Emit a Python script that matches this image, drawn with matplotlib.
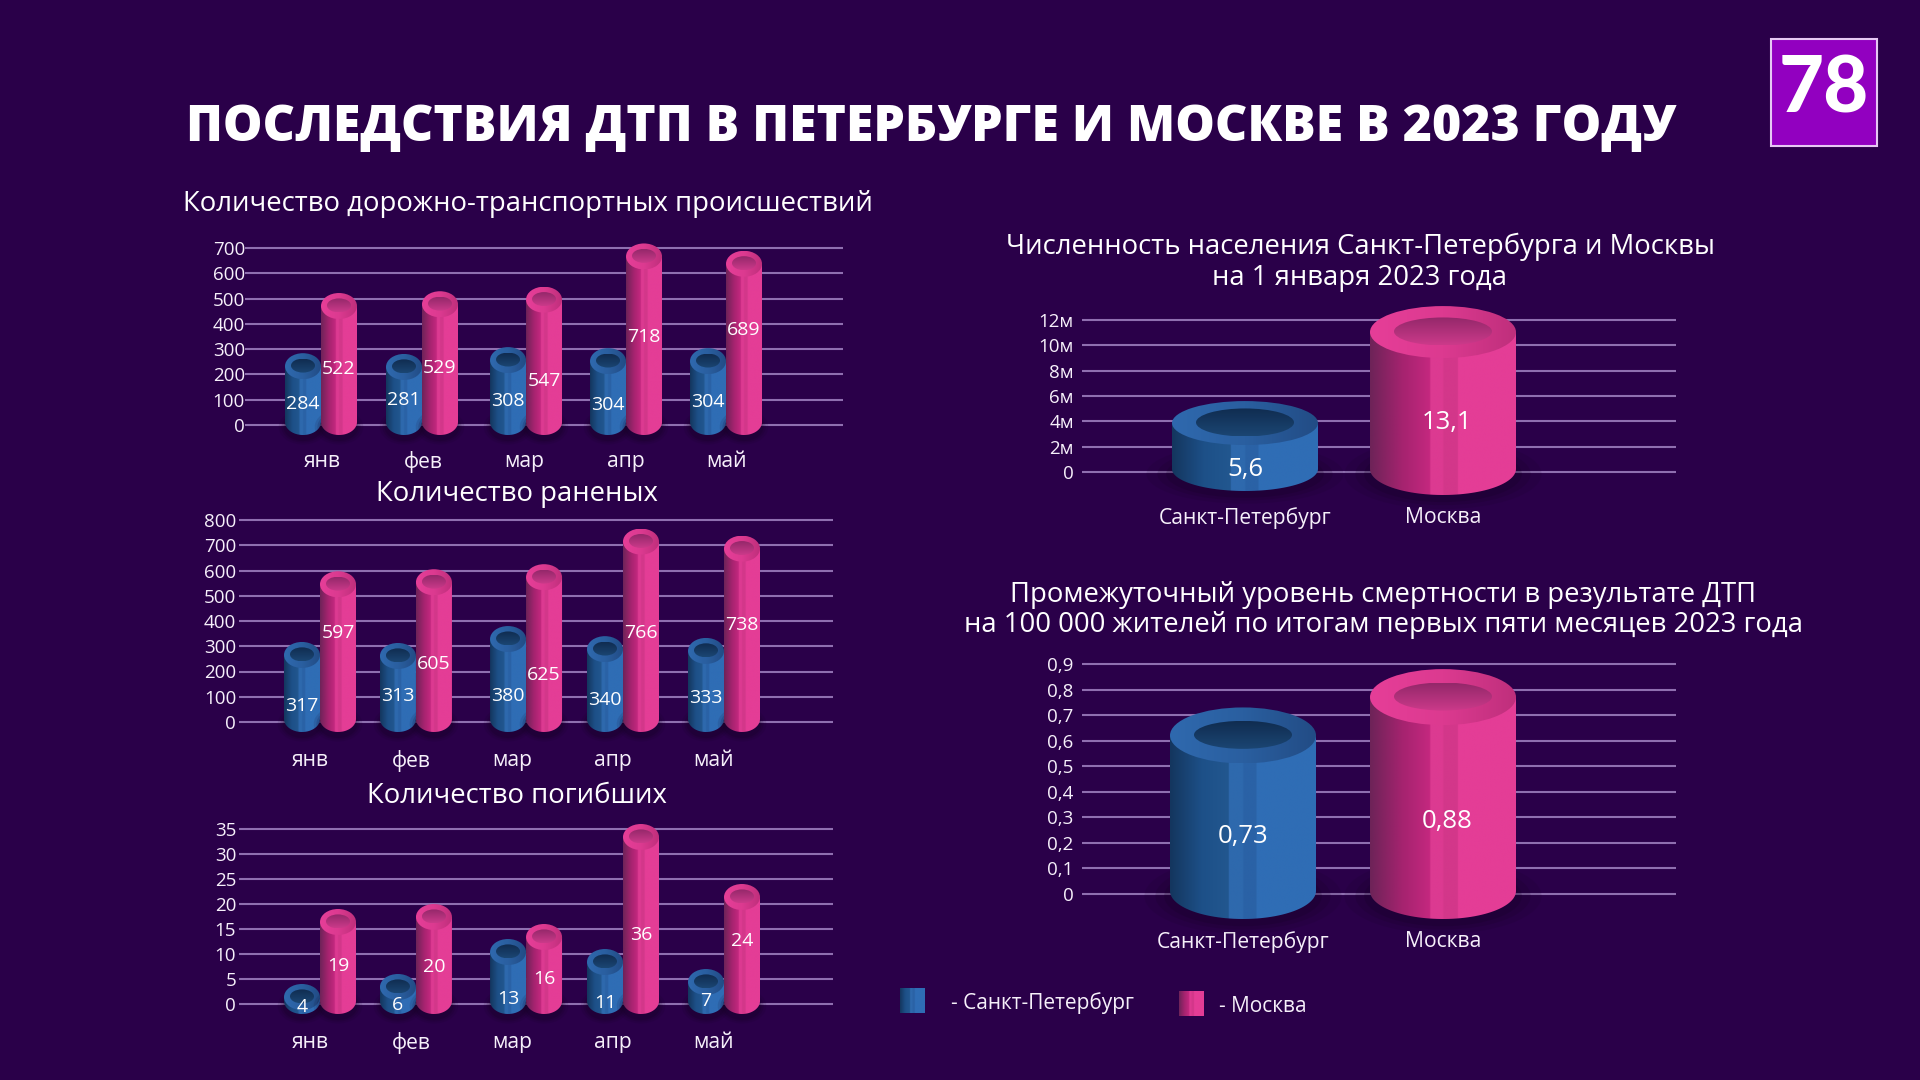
# =====================================================
# ДТП в Петербурге и Москве, 2023 - cylinder bar charts
# =====================================================
import numpy as np
import matplotlib
matplotlib.use("Agg")
import matplotlib.pyplot as plt
from matplotlib.colors import to_rgb
from matplotlib.patches import Ellipse, PathPatch, Rectangle
from matplotlib.path import Path

plt.rcParams["font.family"] = ["Open Sans", "DejaVu Sans"]

# =====================================================
# 1. Data
# =====================================================
months = ["янв", "фев", "мар", "апр", "май"]
cities = ["Санкт-Петербург", "Москва"]

crashes_spb = [284, 281, 308, 304, 304]
crashes_msk = [522, 529, 547, 718, 689]
injured_spb = [317, 313, 380, 340, 333]
injured_msk = [597, 605, 625, 766, 738]
deaths_spb = [4, 6, 13, 11, 7]
deaths_msk = [19, 20, 16, 36, 24]

population = [5.6, 13.1]
population_labels = ["5,6", "13,1"]
death_rate = [0.73, 0.88]
death_rate_labels = ["0,73", "0,88"]

crashes_ticks = [0, 100, 200, 300, 400, 500, 600, 700]
injured_ticks = [0, 100, 200, 300, 400, 500, 600, 700, 800]
deaths_ticks = [0, 5, 10, 15, 20, 25, 30, 35]
population_ticks = [0, 2, 4, 6, 8, 10, 12]
population_ticklabels = ["0", "2м", "4м", "6м", "8м", "10м", "12м"]
rate_ticks = [0, 0.1, 0.2, 0.3, 0.4, 0.5, 0.6, 0.7, 0.8, 0.9]
rate_ticklabels = ["0", "0,1", "0,2", "0,3", "0,4", "0,5", "0,6", "0,7", "0,8", "0,9"]

# =====================================================
# 2. Colours
# =====================================================
BG = "#2a0049"
GRID = "#8f6fb0"
TXT = "#f6f0fa"

BLUE_BODY = [(0, "#14365e"), (0.22, "#1d5088"), (0.40, "#22578f"), (0.405, "#2e69ad"), (0.5, "#2e69ad"),
             (0.505, "#2a62a6"), (0.59, "#2a62a6"), (0.595, "#2f6db5"), (1, "#2f6db5")]
PINK_BODY = [(0, "#6d2358"), (0.22, "#a5236f"), (0.41, "#c4287f"), (0.415, "#dc3a91"), (0.5, "#dc3a91"),
             (0.505, "#d3378a"), (0.6, "#d3378a"), (0.605, "#e43d96"), (1, "#e43d96")]
BLUE_RING = [(0, "#2f69ae"), (0.5, "#2a5fa0"), (1, "#224c85")]
PINK_RING = [(0, "#e63e98"), (0.5, "#dc3a90"), (1, "#bf2f7c")]
BLUE_HOLE = [(0, "#102c50"), (1, "#1b4673")]
PINK_HOLE = [(0, "#93286a"), (1, "#cc3a8a")]


def ramp(stops, horizontal=True):
    # build a 1-pixel wide gradient image from colour stops
    pos = [s[0] for s in stops]
    rgb = np.array([to_rgb(s[1]) for s in stops])
    t = np.linspace(0, 1, 256)
    img = np.stack([np.interp(t, pos, rgb[:, i]) for i in range(3)], axis=-1)
    return img[None, :, :] if horizontal else img[:, None, :]


def fill(ax, img, patch, extent, z):
    patch.set_facecolor("none")
    patch.set_edgecolor("none")
    ax.add_patch(patch)
    im = ax.imshow(img, extent=extent, aspect="auto", zorder=z, interpolation="bilinear")
    im.set_clip_path(patch)


# =====================================================
# 3. Panel helpers (layout in pixels of the 1920x1080 image)
# =====================================================
W, H = 1920, 1080
fig = plt.figure(figsize=(W / 100, H / 100), dpi=100, facecolor=BG)


def panel(x0, x1, y_zero, y_max, vmax, step_px, first_px, ticks, ticklabels, cats, tick_nudge, pad_bot, ypad):
    pad_top = 34
    ax = fig.add_axes([x0 / W, 1 - (y_zero + pad_bot) / H, (x1 - x0) / W, (y_zero + pad_bot - y_max + pad_top) / H])
    sy = (y_zero - y_max) / vmax
    lim_x = ((x0 - first_px) / step_px, (x1 - first_px) / step_px)
    lim_y = (-pad_bot / sy, vmax + pad_top / sy)
    ax.set_facecolor("none")
    for s in ax.spines.values():
        s.set_visible(False)
    ax.set_yticks(ticks)
    ax.set_yticklabels(ticklabels, color=TXT, fontsize=13.5)
    ax.set_xticks([i + tick_nudge for i in range(len(cats))])
    ax.set_xticklabels(cats, color=TXT, fontsize=15.2)
    ax.tick_params(length=0, axis="both")
    ax.tick_params(axis="y", pad=ypad)
    ax.yaxis.grid(True, color=GRID, lw=1.5, zorder=0)
    ax.set_axisbelow(True)
    ax.set_xlim(lim_x)
    ax.set_ylim(lim_y)
    ax.px = (step_px, sy, lim_x, lim_y)
    return ax


def cylinder(ax, x, value, rx_px, ry_px, hole_rx, hole_ry, body, ring, hole, z):
    step, sy, lim_x, lim_y = ax.px
    rx, ry = rx_px / step, ry_px / sy
    top = value - ry
    base = 3 / sy
    # soft shadow
    for k, a in zip((1.35, 1.2, 1.08), (0.10, 0.14, 0.18)):
        ax.add_patch(Ellipse((x, base - 5 / sy), 2 * rx * k, 2 * ry * k, fc="#12001f", ec="none", alpha=a,
                             zorder=z, clip_on=False))
    # body: straight sides and the lower half of the base ellipse
    t = np.linspace(np.pi, 2 * np.pi, 60)
    vx = np.r_[x - rx, x + rx * np.cos(t), x + rx, x - rx]
    vy = np.r_[top, base + ry * np.sin(t), top, top]
    fill(ax, ramp(body), PathPatch(Path(np.c_[vx, vy])), (x - rx, x + rx, base - ry, top), z + 1)
    # top ring and inner hole
    fill(ax, ramp(ring), Ellipse((x, top), 2 * rx, 2 * ry), (x - rx, x + rx, top - ry, top + ry), z + 2)
    hrx, hry = hole_rx / step, hole_ry / sy
    hy = top + 0.6 / sy
    fill(ax, ramp(hole, horizontal=False), Ellipse((x, hy), 2 * hrx, 2 * hry),
         (x - hrx, x + hrx, hy - hry, hy + hry), z + 3)
    ax.set_xlim(lim_x)
    ax.set_ylim(lim_y)


def monthly(ax, spb, msk, nudges, off_px, label_nudge_spb, label_nudge_msk):
    step, sy, _, _ = ax.px
    for i in range(len(spb)):
        gx = i + nudges[i]
        xb, xp = gx - off_px / step, gx + off_px / step
        cylinder(ax, xb, spb[i], 18, 13, 12, 7, BLUE_BODY, BLUE_RING, BLUE_HOLE, 10)
        cylinder(ax, xp, msk[i], 18, 13, 12, 7, PINK_BODY, PINK_RING, PINK_HOLE, 20)
        ax.text(xb, (spb[i] + 3 / sy) / 2 - label_nudge_spb[i] / sy, str(spb[i]), color="white", fontsize=14,
                ha="center", va="center", zorder=40)
        ax.text(xp, (msk[i] + 3 / sy) / 2 - label_nudge_msk[i] / sy, str(msk[i]), color="white", fontsize=14,
                ha="center", va="center", zorder=40)


def yearly(ax, values, labels, ry_list, label_nudge):
    step, sy, _, _ = ax.px
    for i, v in enumerate(values):
        body, ring, hole = (BLUE_BODY, BLUE_RING, BLUE_HOLE) if i == 0 else (PINK_BODY, PINK_RING, PINK_HOLE)
        cylinder(ax, i, v, 73, ry_list[i], 49, 14, body, ring, hole, 10 + 10 * i)
        ax.text(i + i * 4 / step, v / 2 - label_nudge[i] / sy, labels[i], color="white", fontsize=18.5,
                ha="center", va="center", zorder=40)


# =====================================================
# 4. Draw the panels
# =====================================================
ax1 = panel(245, 843, 425, 248, 700, 101, 321, crashes_ticks, crashes_ticks, months, 0.015, 21, 0)
monthly(ax1, crashes_spb, crashes_msk, [0, 0, 0.03, 0.02, 0.01], 18,
        [16, 12, 16, 20, 17], [11, 11, 27, 4, -6])

ax2 = panel(239, 833, 722, 520, 800, 101, 320, injured_ticks, injured_ticks, months, -0.1, 23, 2)
monthly(ax2, injured_spb, injured_msk, [0, -0.05, 0.04, 0, 0], 18,
        [26, 15, 23, 22, 20], [-12, 20, 33, 9, -2])

ax3 = panel(239, 833, 1004, 829, 35, 101, 320, deaths_ticks, deaths_ticks, months, -0.1, 23, 2)
monthly(ax3, deaths_spb, deaths_msk, [0, -0.05, 0.04, 0, 0], 18,
        [15, 17, 29, 28, 16], [11, 15, 16, 23, -1])

ax4 = panel(1082, 1676, 472, 320, 12, 198, 1245, population_ticks, population_ticklabels, cities, 0, 30, 6)
yearly(ax4, population, population_labels, [22, 26], [33, 33])

ax5 = panel(1082, 1676, 894, 664, 0.9, 200, 1243, rate_ticks, rate_ticklabels, cities, 0, 32, 6)
yearly(ax5, death_rate, death_rate_labels, [28, 28], [36, 40])

# =====================================================
# 5. Titles, legend, logo
# =====================================================
def label(x, y, s, **kw):
    fig.text(x / W, 1 - y / H, s, color=kw.pop("color", "white"), va="center", **kw)


label(931, 128, "ПОСЛЕДСТВИЯ ДТП В ПЕТЕРБУРГЕ И МОСКВЕ В 2023 ГОДУ", fontsize=35.95, fontweight=800, ha="center")
label(183, 204, "Количество дорожно-транспортных происшествий", fontsize=19.85, ha="left")
label(517, 494, "Количество раненых", fontsize=19.85, ha="center")
label(517, 796, "Количество погибших", fontsize=19.85, ha="center")
label(1360, 247, "Численность населения Санкт-Петербурга и Москвы", fontsize=19.8, ha="center")
label(1360, 278, "на 1 января 2023 года", fontsize=19.8, ha="center")
label(1383, 595, "Промежуточный уровень смертности в результате ДТП", fontsize=19.8, ha="center")
label(1383, 625, "на 100 000 жителей по итогам первых пяти месяцев 2023 года", fontsize=19.8, ha="center")

for x0, y0, grad in [(900, 988, BLUE_BODY), (1179, 991, PINK_BODY)]:
    a = fig.add_axes([x0 / W, 1 - (y0 + 25) / H, 25 / W, 25 / H])
    a.imshow(ramp(grad), aspect="auto")
    a.axis("off")
label(951, 1003, "- Санкт-Петербург", fontsize=15, ha="left", color=TXT)
label(1219, 1007, "- Москва", fontsize=15, ha="left", color=TXT)

fig.add_artist(Rectangle((1771 / W, 1 - 146 / H), 106 / W, 107 / H, transform=fig.transFigure,
                         fc="#9200c0", ec="#e6c8f4", lw=1.5))
label(1824, 90, "78", fontsize=56, fontweight="black", ha="center", family="Lato")

fig.savefig("out.png", dpi=100, facecolor=BG)
